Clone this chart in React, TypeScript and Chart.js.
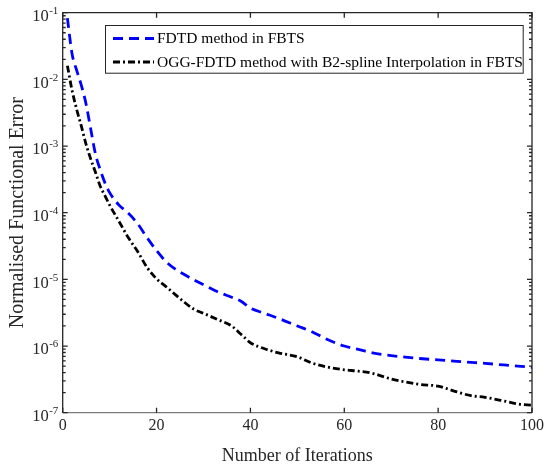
import React, { useEffect, useRef } from 'react';
import { Chart, registerables } from 'chart.js';

Chart.register(...registerables);

// ---- data ----
const iterations = [1, 2, 3, 4, 5, 6, 7, 8, 9, 10, 12, 14, 16, 18, 20, 22, 24, 26, 28, 30, 33, 36, 38, 40, 43, 46, 50, 53, 56, 60, 63, 66, 70, 73, 76, 80, 84, 87, 90, 94, 97, 100];
const fdtdError = [8.3e-2, 2.4e-2, 1.35e-2, 8e-3, 4.2e-3, 1.75e-3, 7.5e-4, 4.4e-4, 2.8e-4, 2.0e-4, 1.3e-4, 9.8e-5, 6.8e-5, 4.2e-5, 2.7e-5, 1.85e-5, 1.42e-5, 1.17e-5, 9.8e-6, 8.3e-6, 6.5e-6, 5.4e-6, 4.7e-6, 3.7e-6, 3.1e-6, 2.6e-6, 2.0e-6, 1.65e-6, 1.29e-6, 1.0e-6, 8.9e-7, 7.9e-7, 7.2e-7, 6.8e-7, 6.5e-7, 6.2e-7, 5.9e-7, 5.7e-7, 5.5e-7, 5.2e-7, 5.0e-7, 4.8e-7];
const oggError = [1.6e-2, 6.8e-3, 3.5e-3, 1.95e-3, 1.05e-3, 6.3e-4, 4.0e-4, 2.5e-4, 1.8e-4, 1.3e-4, 7.4e-5, 4.2e-5, 2.6e-5, 1.5e-5, 1.02e-5, 7.8e-6, 5.9e-6, 4.5e-6, 3.55e-6, 3.1e-6, 2.5e-6, 2.0e-6, 1.5e-6, 1.12e-6, 9.1e-7, 7.9e-7, 6.9e-7, 5.6e-7, 4.9e-7, 4.4e-7, 4.2e-7, 3.9e-7, 3.2e-7, 2.9e-7, 2.66e-7, 2.5e-7, 2.05e-7, 1.8e-7, 1.7e-7, 1.5e-7, 1.35e-7, 1.29e-7];
const xTickValues = [0, 20, 40, 60, 80, 100];
const yTickExponents = [-7, -6, -5, -4, -3, -2, -1];
const seriesLabels = ['FDTD method in FBTS', 'OGG-FDTD method with B2-spline Interpolation in FBTS'];
const xTitle = 'Number of Iterations';
const yTitle = 'Normalised Functional Error';

const FONT = '"Liberation Serif", "Times New Roman", serif';
const AXIS = '#262626';
const BLUE_DASH = [10, 6];
const BLACK_DASH = [7, 3, 2, 3];

const decoPlugin = {
  id: 'deco',
  afterDraw(chart: any) {
    const { ctx, chartArea } = chart;
    const { left, right, top, bottom } = chartArea;
    const xs = chart.scales.x;
    const ys = chart.scales.y;
    ctx.save();
    // frame
    ctx.lineWidth = 1.3;
    ctx.strokeStyle = AXIS;
    ctx.beginPath();
    ctx.moveTo(left, bottom);
    ctx.lineTo(left, top);
    ctx.lineTo(right, top);
    ctx.lineTo(right, bottom);
    ctx.stroke();
    ctx.strokeStyle = '#7a7a7a';
    ctx.beginPath();
    ctx.moveTo(left, bottom);
    ctx.lineTo(right, bottom);
    ctx.stroke();
    // x ticks (inward, top and bottom)
    ctx.strokeStyle = AXIS;
    ctx.lineWidth = 1.3;
    ctx.beginPath();
    xTickValues.forEach((v) => {
      const px = xs.getPixelForValue(v);
      ctx.moveTo(px, bottom);
      ctx.lineTo(px, bottom - 5);
      ctx.moveTo(px, top);
      ctx.lineTo(px, top + 5);
    });
    // y ticks major + minor
    yTickExponents.forEach((e) => {
      const py = ys.getPixelForValue(Math.pow(10, e));
      ctx.moveTo(left, py);
      ctx.lineTo(left + 5, py);
      ctx.moveTo(right, py);
      ctx.lineTo(right - 5, py);
      if (e < -1) {
        for (let m = 2; m <= 9; m++) {
          const pm = ys.getPixelForValue(m * Math.pow(10, e));
          ctx.moveTo(left, pm);
          ctx.lineTo(left + 3, pm);
          ctx.moveTo(right, pm);
          ctx.lineTo(right - 3, pm);
        }
      }
    });
    ctx.stroke();
    // y tick labels 10^e
    ctx.fillStyle = AXIS;
    yTickExponents.forEach((e) => {
      const py = ys.getPixelForValue(Math.pow(10, e));
      ctx.font = `16.5px ${FONT}`;
      ctx.textAlign = 'right';
      ctx.textBaseline = 'middle';
      ctx.fillText('10', left - 14, py + 4);
      ctx.font = `11px ${FONT}`;
      ctx.textAlign = 'left';
      ctx.fillText(String(e), left - 13.5, py - 1.5);
    });
    // legend
    const lx = left + 42.3;
    const ly = top + 12.3;
    const lw = 417.7;
    const lh = 47.7;
    ctx.fillStyle = '#ffffff';
    ctx.fillRect(lx, ly, lw, lh);
    ctx.strokeStyle = AXIS;
    ctx.lineWidth = 1;
    ctx.setLineDash([]);
    ctx.strokeRect(lx + 0.5, ly + 0.5, lw, lh);
    const rows = [
      { y: ly + 13.5, color: '#0000ff', dash: BLUE_DASH, text: seriesLabels[0] },
      { y: ly + 37, color: '#000000', dash: BLACK_DASH, text: seriesLabels[1] },
    ];
    rows.forEach((r) => {
      ctx.strokeStyle = r.color;
      ctx.lineWidth = 2.8;
      ctx.setLineDash(r.dash);
      ctx.beginPath();
      ctx.moveTo(lx + 8, r.y);
      ctx.lineTo(lx + 49, r.y);
      ctx.stroke();
      ctx.setLineDash([]);
      ctx.fillStyle = '#000000';
      ctx.font = `15.5px ${FONT}`;
      ctx.textAlign = 'left';
      ctx.textBaseline = 'middle';
      ctx.fillText(r.text, lx + 52, r.y + 0.5);
    });
    ctx.restore();
  },
};

export default function App() {
  const ref = useRef<HTMLCanvasElement | null>(null);
  useEffect(() => {
    if (!ref.current) return;
    const chart = new Chart(ref.current, {
      type: 'line',
      data: {
        datasets: [
          {
            label: seriesLabels[0],
            data: iterations.map((x, i) => ({ x, y: fdtdError[i] })),
            borderColor: '#0000ff',
            borderWidth: 2.8,
            borderDash: BLUE_DASH,
            pointRadius: 0,
            cubicInterpolationMode: 'monotone',
            fill: false,
          },
          {
            label: seriesLabels[1],
            data: iterations.map((x, i) => ({ x, y: oggError[i] })),
            borderColor: '#000000',
            borderWidth: 2.8,
            borderDash: BLACK_DASH,
            pointRadius: 0,
            cubicInterpolationMode: 'monotone',
            fill: false,
          },
        ],
      },
      options: {
        responsive: false,
        animation: false,
        layout: { padding: { left: 0, top: 12.7, right: 12, bottom: 0 } },
        plugins: { legend: { display: false }, tooltip: { enabled: false } },
        scales: {
          x: {
            type: 'linear',
            min: 0,
            max: 100,
            grid: { display: false, drawTicks: false },
            border: { display: false },
            ticks: {
              stepSize: 20,
              color: AXIS,
              font: { family: FONT, size: 16 },
              padding: 3,
              maxRotation: 0,
            },
            title: {
              display: true,
              text: xTitle,
              color: AXIS,
              font: { family: FONT, size: 18 },
              padding: { top: 0, bottom: 0 },
            },
            afterFit: (s: any) => {
              s.height = 54.3;
            },
          },
          y: {
            type: 'logarithmic',
            min: 1e-7,
            max: 1e-1,
            grid: { display: false, drawTicks: false },
            border: { display: false },
            ticks: { display: false },
            title: {
              display: true,
              text: yTitle,
              color: AXIS,
              font: { family: FONT, size: 20 },
              padding: { top: 6, bottom: 0 },
            },
            afterFit: (s: any) => {
              s.width = 62.7;
            },
          },
        },
      },
      plugins: [decoPlugin],
    } as any);
    return () => chart.destroy();
  }, []);
  return (
    <div style={{ position: 'absolute', left: 0, top: 0, width: 547, height: 467, background: '#fff' }}>
      <canvas ref={ref} width={547} height={467} style={{ display: 'block' }} />
    </div>
  );
}
